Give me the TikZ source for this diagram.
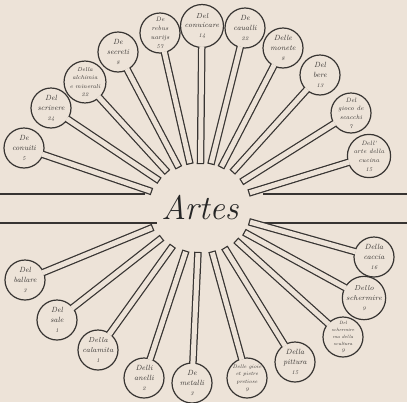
\documentclass[tikz,border=0pt]{standalone}
\usepackage{xcolor}
\usepackage{tikz}
\usetikzlibrary{calc, backgrounds}
\definecolor{parchment}{RGB}{237,227,216}
\definecolor{inkgray}{RGB}{55,52,50}
\newcommand{\cnt}[1]{{\fontsize{5.5}{6}\selectfont #1}}

\begin{document}
\begin{tikzpicture}[x=1pt, y=-1pt,
  leaf/.style={circle, draw=inkgray, line width=1.2pt, fill=parchment, minimum size=40pt, inner sep=0pt, align=center, text=inkgray},
  stemout/.style={line width=7.5pt, draw=inkgray},
  stemin/.style={line width=5pt, draw=parchment, shorten <=-1.6pt},
  band/.style={line width=1.6pt, draw=inkgray}
]
\useasboundingbox (0,0) rectangle (407,402);
\begin{pgfonlayer}{background}
  \fill[parchment] (0,0) rectangle (407,402);
\end{pgfonlayer}

\coordinate (hub) at (200,208);
\node[font=\fontsize{34}{34}\selectfont\itshape, text=black!85] (artes) at (hub) {Artes};

% bar behind the title
\coordinate (barTL) at (0,194);   \coordinate (barTLend) at (145,194);
\coordinate (barTR) at (407,194); \coordinate (barTRend) at (263,194);
\coordinate (barBL) at (0,223);   \coordinate (barBLend) at (157,223);
\coordinate (barBR) at (407,223); \coordinate (barBRend) at (252,223);
\draw[band] (barTL) -- (barTLend);
\draw[band] (barTR) -- (barTRend);
\draw[band] (barBL) -- (barBLend);
\draw[band] (barBR) -- (barBRend);

% the arts, upper and lower fan
\foreach \n/\x/\y/\fs/\txt in {
  t1/24/148/7.5/{De\\conuiti\\\cnt{5}},
  t2/51/108/7.5/{Del\\scrivere\\\cnt{24}},
  t3/85/82/5.8/{Della\\alchimia\\e minerali\\\cnt{22}},
  t4/118/52/7.5/{De\\secreti\\\cnt{8}},
  t5/160/33/6.3/{De\\rebus\\uarijs\\\cnt{57}},
  t6/202/26/7.2/{Del\\conuicare\\\cnt{14}},
  t7/245/28/7.5/{De\\caualli\\\cnt{22}},
  t8/283/48/7.5/{Delle\\monete\\\cnt{8}},
  t9/320/75/7.5/{Del\\bere\\\cnt{13}},
  t10/351/113/6.2/{Del\\gioco de\\scacchi\\\cnt{7}},
  t11/369/156/6.2/{Dell'\\arte della\\cucina\\\cnt{15}},
  b1/25/280/7.5/{Del\\ballare\\\cnt{3}},
  b2/57/320/7.5/{Del\\sale\\\cnt{1}},
  b3/98/350/7.2/{Della\\calamita\\\cnt{1}},
  b4/144/378/7.5/{Delli\\anelli\\\cnt{2}},
  b5/192/383/7.5/{De\\metalli\\\cnt{3}},
  b6/247/378/5.2/{Delle gioie\\et pietre\\pretiose\\\cnt{9}},
  b7/295/362/7.5/{Della\\pittura\\\cnt{15}},
  b8/343/337/4.6/{Del\\schermire\\ma della\\scultura\\\cnt{9}},
  b9/364/298/7.2/{Dello\\schermire\\\cnt{9}},
  b10/374/257/7.5/{Della\\caccia\\\cnt{16}}} {
  \pgfmathsetmacro{\ang}{atan2(\y-208,\x-200)}
  \pgfmathsetmacro{\rad}{1/sqrt((cos(\ang)/52)^2+(sin(\ang)/45)^2)}
  \pgfmathsetmacro{\ls}{\fs+2.5}
  \coordinate (e\n) at ({200+\rad*cos(\ang)},{208+\rad*sin(\ang)});
  \node[leaf, font=\fontsize{\fs}{\ls}\selectfont\itshape] (c\n) at (\x,\y) {\txt};
  \begin{pgfonlayer}{background}
    \draw[stemout] (c\n.center) -- ($(e\n)!-1.25pt!(c\n.center)$);
  \end{pgfonlayer}
  \draw[stemin] (c\n) -- (e\n);
}
\end{tikzpicture}
\end{document}
